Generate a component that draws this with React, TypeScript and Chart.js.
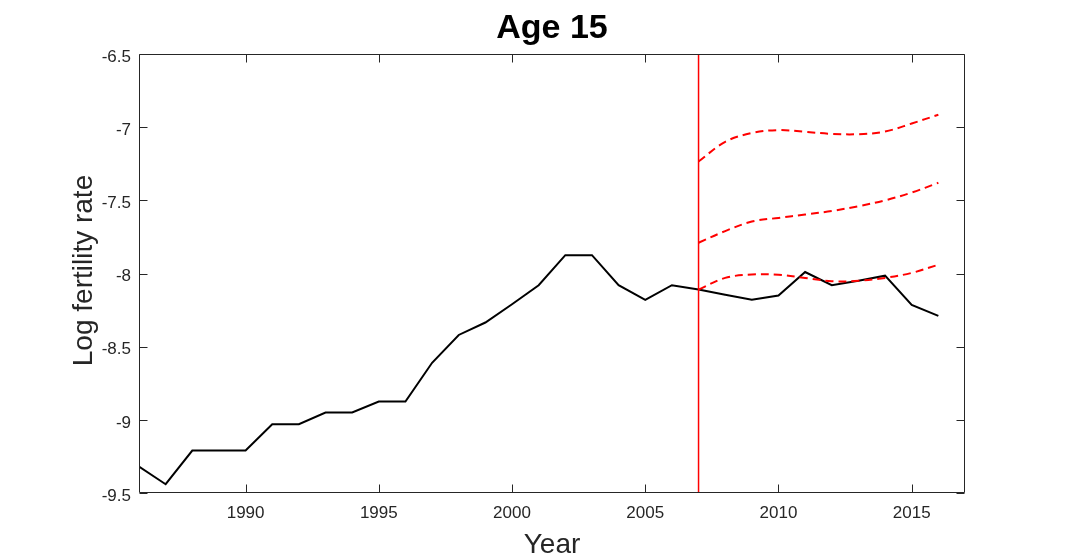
import React, { useEffect, useRef } from "react";
import { Chart, registerables } from "chart.js";

Chart.register(...registerables);

const observedYears = [
  1986, 1987, 1988, 1989, 1990, 1991, 1992, 1993, 1994, 1995, 1996,
  1997, 1998, 1999, 2000, 2001, 2002, 2003, 2004, 2005, 2006,
  2007, 2008, 2009, 2010, 2011, 2012, 2013, 2014, 2015, 2016,
];
const observedRate = [
  -9.32, -9.44, -9.21, -9.21, -9.21, -9.03, -9.03, -8.95, -8.95, -8.875, -8.875,
  -8.61, -8.42, -8.335, -8.21, -8.08, -7.875, -7.875, -8.08, -8.18, -8.08,
  -8.11, -8.145, -8.18, -8.15, -7.99, -8.08, -8.05, -8.015, -8.215, -8.29,
];

const forecastYears = [2007, 2008, 2009, 2010, 2011, 2012, 2013, 2014, 2015, 2016];
const forecastUpper = [-7.235, -7.1, -7.04, -7.02, -7.032, -7.046, -7.048, -7.03, -6.975, -6.915];
const forecastMid = [-7.79, -7.71, -7.645, -7.62, -7.597, -7.573, -7.54, -7.5, -7.447, -7.38];
const forecastLower = [-8.11, -8.03, -8.007, -8.009, -8.03, -8.053, -8.05, -8.03, -7.996, -7.94];

const cutoffYear = 2007;
const xTicks = [1990, 1995, 2000, 2005, 2010, 2015];
const yTicks = [-9.5, -9, -8.5, -8, -7.5, -7, -6.5];

const titleText = "Age 15";
const xTitle = "Year";
const yTitle = "Log fertility rate";

const AX = "#262626";
const FONT = "'Liberation Sans', Arial, Helvetica, sans-serif";

const framePlugin = {
  id: "frame",
  afterDraw(chart: any) {
    const { ctx, chartArea: a, scales } = chart;
    ctx.save();
    ctx.strokeStyle = AX;
    ctx.lineWidth = 1;
    const L = Math.round(a.left) + 0.5;
    const R = Math.round(a.right) - 0.5;
    const T = Math.round(a.top) + 0.5;
    const B = Math.round(a.bottom) - 0.5;
    ctx.beginPath();
    ctx.rect(L, T, R - L, B - T);
    const tl = 8;
    for (const v of xTicks) {
      const px = Math.round(scales.x.getPixelForValue(v)) + 0.5;
      ctx.moveTo(px, B);
      ctx.lineTo(px, B - tl);
      ctx.moveTo(px, T);
      ctx.lineTo(px, T + tl);
    }
    for (const v of yTicks) {
      const py = Math.round(scales.y.getPixelForValue(v)) + 0.5;
      ctx.moveTo(L, py);
      ctx.lineTo(L + tl, py);
      ctx.moveTo(R, py);
      ctx.lineTo(R - tl, py);
    }
    ctx.stroke();

    const cx = (a.left + a.right) / 2;
    ctx.fillStyle = "#000";
    ctx.textAlign = "center";
    ctx.textBaseline = "alphabetic";
    ctx.font = `bold 34px ${FONT}`;
    ctx.fillText(titleText, cx, 38);

    ctx.fillStyle = AX;
    ctx.font = `28px ${FONT}`;
    ctx.fillText(xTitle, cx, 553);

    ctx.translate(92, (a.top + a.bottom) / 2 - 3);
    ctx.rotate(-Math.PI / 2);
    ctx.fillText(yTitle, 0, 0);
    ctx.restore();
  },
};

export default function App() {
  const ref = useRef<HTMLCanvasElement | null>(null);

  useEffect(() => {
    const canvas = ref.current;
    if (!canvas) return;
    const toXY = (xs: number[], ys: number[]) => xs.map((x, i) => ({ x, y: ys[i] }));
    const dashed = (data: number[]) => ({
      data: toXY(forecastYears, data),
      borderColor: "#ff0000",
      borderWidth: 2,
      borderDash: [8, 5],
      pointRadius: 0,
      tension: 0.35,
      fill: false,
    });
    const chart = new Chart(canvas, {
      type: "line",
      data: {
        datasets: [
          {
            data: [
              { x: cutoffYear, y: yTicks[0] },
              { x: cutoffYear, y: yTicks[yTicks.length - 1] },
            ],
            borderColor: "#ff0000",
            borderWidth: 1.5,
            pointRadius: 0,
            fill: false,
          },
          dashed(forecastUpper),
          dashed(forecastMid),
          dashed(forecastLower),
          {
            data: toXY(observedYears, observedRate),
            borderColor: "#000000",
            borderWidth: 2,
            pointRadius: 0,
            tension: 0,
            fill: false,
          },
        ],
      },
      options: {
        animation: false,
        responsive: false,
        maintainAspectRatio: false,
        layout: { padding: { top: 54, right: 102, left: 0, bottom: 0 } },
        plugins: {
          legend: { display: false },
          title: { display: false },
          tooltip: { enabled: false },
        },
        scales: {
          x: {
            type: "linear",
            min: 1986,
            max: 2017,
            grid: { display: false, drawTicks: false },
            border: { display: false },
            afterBuildTicks: (scale: any) => {
              scale.ticks = xTicks.map((v) => ({ value: v }));
            },
            afterFit: (scale: any) => {
              scale.height = 67;
            },
            ticks: {
              padding: 10,
              color: AX,
              font: { family: FONT, size: 17 },
              callback: (v: any) => String(v),
              maxRotation: 0,
              autoSkip: false,
            },
          },
          y: {
            type: "linear",
            min: -9.5,
            max: -6.5,
            grid: { display: false, drawTicks: false },
            border: { display: false },
            afterBuildTicks: (scale: any) => {
              scale.ticks = yTicks.map((v) => ({ value: v }));
            },
            afterFit: (scale: any) => {
              scale.width = 139;
            },
            ticks: {
              padding: 8,
              labelOffset: 3,
              color: AX,
              font: { family: FONT, size: 17 },
              callback: (v: any) => String(v),
              autoSkip: false,
            },
          },
        },
      },
      plugins: [framePlugin],
    } as any);
    return () => chart.destroy();
  }, []);

  return (
    <div style={{ position: "fixed", left: 0, top: 0, width: 1067, height: 560, background: "#fff" }}>
      <canvas ref={ref} width={1067} height={560} style={{ display: "block" }} />
    </div>
  );
}
